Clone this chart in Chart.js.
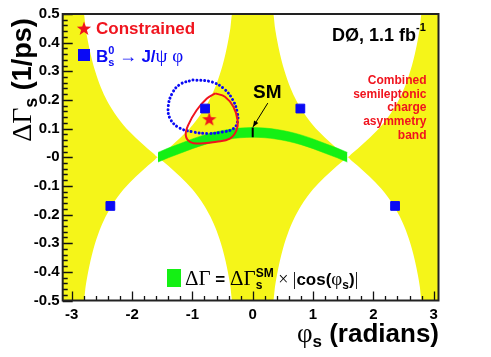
<!DOCTYPE html>
<html>
<head>
<meta charset="utf-8">
<script src="https://cdn.jsdelivr.net/npm/chart.js@4.4.1/dist/chart.umd.min.js"></script>
<style>
  html, body { margin: 0; padding: 0; background: #fff; }
</style>
</head>
<body>
<canvas id="c" width="491" height="357"></canvas>
<script>
// Axis ticks
const xTicks = [-3, -2, -1, 0, 1, 2, 3];
const yTicks = [-0.5, -0.4, -0.3, -0.2, -0.1, 0, 0.1, 0.2, 0.3, 0.4, 0.5];

// Combined semileptonic charge asymmetry band (upper / lower edge)
const bandPhi = [-3.15, -2.80, -2.77, -2.74, -2.69, -2.64, -2.54, -2.44, -2.34, -2.24, -2.14, -2.04, -1.94, -1.84, -1.74, -1.64, -1.57,
    -1.50, -1.40, -1.30, -1.20, -1.10, -1.00, -0.90, -0.80, -0.70, -0.60, -0.50, -0.45, -0.40, -0.37, -0.34, 0,
    0.34, 0.37, 0.40, 0.45, 0.50, 0.60, 0.70, 0.80, 0.90, 1.00, 1.10, 1.20, 1.30, 1.40, 1.50, 1.57,
    1.64, 1.74, 1.84, 1.94, 2.04, 2.14, 2.24, 2.34, 2.44, 2.54, 2.64, 2.69, 2.74, 2.77, 2.80, 3.08];
const bandTop = [0.5, 0.5, 0.451, 0.414, 0.362, 0.320, 0.256, 0.208, 0.170, 0.139, 0.112, 0.089, 0.068, 0.049, 0.030, 0.012, 0,
    0.012, 0.030, 0.049, 0.068, 0.089, 0.112, 0.139, 0.170, 0.208, 0.256, 0.320, 0.362, 0.414, 0.451, 0.5, 0.5,
    0.5, 0.451, 0.414, 0.362, 0.320, 0.256, 0.208, 0.170, 0.139, 0.112, 0.089, 0.068, 0.049, 0.030, 0.012, 0,
    0.012, 0.030, 0.049, 0.068, 0.089, 0.112, 0.139, 0.170, 0.208, 0.256, 0.320, 0.362, 0.414, 0.451, 0.5, 0.5];
const bandBottom = [-0.5, -0.5, -0.451, -0.414, -0.362, -0.320, -0.256, -0.208, -0.170, -0.139, -0.112, -0.089, -0.068, -0.049, -0.030, -0.012, 0,
    -0.012, -0.030, -0.049, -0.068, -0.089, -0.112, -0.139, -0.170, -0.208, -0.256, -0.320, -0.362, -0.414, -0.451, -0.5, -0.5,
    -0.5, -0.451, -0.414, -0.362, -0.320, -0.256, -0.208, -0.170, -0.139, -0.112, -0.089, -0.068, -0.049, -0.030, -0.012, 0,
    -0.012, -0.030, -0.049, -0.068, -0.089, -0.112, -0.139, -0.170, -0.208, -0.256, -0.320, -0.362, -0.414, -0.451, -0.5, -0.5];

// SM band, dGamma_SM x |cos(phi_s)|
const smPhi = [-1.57, -1.4, -1.2, -1.0, -0.8, -0.6, -0.4, -0.2, 0, 0.2, 0.4, 0.6, 0.8, 1.0, 1.2, 1.4, 1.57];
const smTop = [0.017, 0.032, 0.048, 0.064, 0.078, 0.089, 0.097, 0.102, 0.104, 0.102, 0.097, 0.089, 0.078, 0.064, 0.048, 0.032, 0.017];
const smBottom = [-0.017, -0.002, 0.014, 0.030, 0.044, 0.055, 0.063, 0.068, 0.070, 0.068, 0.063, 0.055, 0.044, 0.030, 0.014, -0.002, -0.017];
const smMarkPhi = [0, 0];
const smMarkDG = [0.104, 0.070];

// Bs -> J/psi phi solutions and contour
const fitPhi = [-0.79, 0.79, -2.36, 2.36];
const fitDG = [0.17, 0.17, -0.17, -0.17];
const jpsiPhi = [-0.99, -0.68, -0.47, -0.33, -0.26, -0.25, -0.32, -0.50, -0.75, -0.98, -1.22, -1.37, -1.40, -1.33, -1.20, -0.99];
const jpsiDG = [0.270, 0.263, 0.238, 0.200, 0.160, 0.125, 0.100, 0.088, 0.083, 0.088, 0.103, 0.135, 0.178, 0.225, 0.255, 0.270];

// Constrained fit
const conPhi = [-0.62, -0.46, -0.32, -0.25, -0.27, -0.38, -0.60, -0.87, -1.04, -1.11, -1.07, -0.93, -0.76, -0.62];
const conDG = [0.223, 0.211, 0.176, 0.129, 0.094, 0.065, 0.054, 0.048, 0.054, 0.077, 0.112, 0.164, 0.205, 0.223];
const bestPhi = [-0.72];
const bestDG = [0.133];

const YELLOW = 'rgb(245,245,25)';
const GREEN = 'rgb(20,240,20)';
const BLUE = 'rgb(10,10,245)';
const RED = 'rgb(240,20,30)';
const SANS = '"Liberation Sans", Arial, Helvetica, sans-serif';
const SERIF = '"Liberation Serif", "Times New Roman", serif';

const pts = (xs, ys) => xs.map((x, i) => ({ x: x, y: ys[i] }));

function starPath(ctx, cx, cy, R, r) {
    ctx.beginPath();
    for (let i = 0; i < 10; i++) {
        const a = -Math.PI / 2 + i * Math.PI / 5;
        const rad = i % 2 === 0 ? R : r;
        ctx.lineTo(cx + rad * Math.cos(a), cy + rad * Math.sin(a));
    }
    ctx.closePath();
}

// star marker image for the best fit point
const starImg = document.createElement('canvas');
starImg.width = 16; starImg.height = 16;
(function () {
    const g = starImg.getContext('2d');
    g.fillStyle = RED;
    starPath(g, 8, 8.5, 7.5, 3);
    g.fill();
})();

// text with sub/superscripts, drawn run by run
function runWidth(ctx, r) {
    ctx.font = r.f;
    if (r.t !== undefined) return ctx.measureText(r.t).width;
    return Math.max(ctx.measureText(r.sup || '').width, ctx.measureText(r.sub || '').width);
}
function drawRich(ctx, x, y, runs, align) {
    const ws = runs.map(r => runWidth(ctx, r));
    const total = ws.reduce((a, b) => a + b, 0);
    let cx = align === 'right' ? x - total : (align === 'center' ? x - total / 2 : x);
    ctx.textAlign = 'left';
    ctx.textBaseline = 'alphabetic';
    runs.forEach((r, i) => {
        ctx.font = r.f;
        ctx.fillStyle = r.c || '#000';
        if (r.t !== undefined) ctx.fillText(r.t, cx, y);
        if (r.sup) ctx.fillText(r.sup, cx, y + r.up);
        if (r.sub) ctx.fillText(r.sub, cx, y + r.dn);
        cx += ws[i];
    });
}

const decor = {
    id: 'decor',
    afterDraw(chart) {
        const ctx = chart.ctx;
        const a = chart.chartArea;
        const xs = chart.scales.x, ys = chart.scales.y;
        ctx.save();

        // ticks pointing into the frame
        ctx.strokeStyle = '#111';
        ctx.lineWidth = 1.3;
        ctx.beginPath();
        for (let i = -25; i <= 25; i++) {
            const py = Math.round(ys.getPixelForValue(i * 0.02)) + 0.5;
            const len = i % 5 === 0 ? 10 : 5;
            ctx.moveTo(a.left, py); ctx.lineTo(a.left + len, py);
        }
        for (let i = -15; i <= 15; i++) {
            const px = Math.round(xs.getPixelForValue(i * 0.2)) + 0.5;
            const len = i % 5 === 0 ? 9 : 4.5;
            ctx.moveTo(px, a.bottom); ctx.lineTo(px, a.bottom - len);
        }
        ctx.stroke();

        // frame
        ctx.lineWidth = 2;
        ctx.strokeStyle = '#222';
        ctx.strokeRect(a.left, a.top, a.right - a.left, a.bottom - a.top);

        // SM arrow
        const x0 = xs.getPixelForValue(0.25), y0 = ys.getPixelForValue(0.189);
        const x1 = xs.getPixelForValue(0.005), y1 = ys.getPixelForValue(0.106);
        ctx.lineWidth = 1;
        ctx.strokeStyle = '#000';
        ctx.beginPath(); ctx.moveTo(x0, y0); ctx.lineTo(x1, y1); ctx.stroke();
        const ang = Math.atan2(y1 - y0, x1 - x0);
        ctx.fillStyle = '#000';
        ctx.beginPath();
        ctx.moveTo(x1, y1);
        ctx.lineTo(x1 - 6 * Math.cos(ang) + 2.5 * Math.sin(ang), y1 - 6 * Math.sin(ang) - 2.5 * Math.cos(ang));
        ctx.lineTo(x1 - 6 * Math.cos(ang) - 2.5 * Math.sin(ang), y1 - 6 * Math.sin(ang) + 2.5 * Math.cos(ang));
        ctx.closePath(); ctx.fill();

        // legend, top left
        ctx.fillStyle = RED;
        starPath(ctx, 84, 29, 7.5, 3);
        ctx.fill();
        drawRich(ctx, 96, 34, [{ t: 'Constrained', f: 'bold 17px ' + SANS, c: RED }]);
        ctx.fillStyle = BLUE;
        ctx.fillRect(78, 49, 12, 12);
        drawRich(ctx, 96, 62, [
            { t: 'B', f: 'bold 17px ' + SANS, c: BLUE },
            { sup: '0', sub: 's', f: 'bold 11px ' + SANS, c: BLUE, up: -8, dn: 4 },
            { t: ' \u2192 ', f: '18px ' + SERIF, c: BLUE },
            { t: 'J/', f: 'bold 17px ' + SANS, c: BLUE },
            { t: '\u03c8 \u03c6', f: '19px ' + SERIF, c: BLUE }
        ]);

        // experiment label
        drawRich(ctx, 332, 41, [
            { t: 'D\u00d8, 1.1 fb', f: 'bold 18px ' + SANS },
            { sup: '-1', f: 'bold 11px ' + SANS, up: -10 }
        ]);

        // band label
        const lines = ['Combined', 'semileptonic', 'charge', 'asymmetry', 'band'];
        const base = [84, 97.5, 111, 124.5, 139];
        lines.forEach((s, i) => drawRich(ctx, 426.5, base[i], [{ t: s, f: 'bold 12px ' + SANS, c: RED }], 'right'));

        drawRich(ctx, 253, 98, [{ t: 'SM', f: 'bold 19px ' + SANS }]);

        // legend, bottom
        ctx.fillStyle = GREEN;
        ctx.fillRect(167, 269, 14, 18);
        drawRich(ctx, 185, 285, [
            { t: '\u0394\u0393', f: '21px ' + SERIF },
            { t: ' = ', f: 'bold 17px ' + SANS },
            { t: '\u0394\u0393', f: '21px ' + SERIF },
            { sup: 'SM', sub: 's', f: 'bold 12px ' + SANS, up: -8, dn: 4 },
            { t: ' \u00d7 |', f: '18px ' + SERIF },
            { t: 'cos(', f: 'bold 17px ' + SANS },
            { t: '\u03c6', f: '19px ' + SERIF },
            { sub: 's', f: 'bold 12px ' + SANS, dn: 4 },
            { t: ')', f: 'bold 17px ' + SANS },
            { t: '|', f: '18px ' + SERIF }
        ]);

        // axis titles
        drawRich(ctx, 439, 342, [
            { t: '\u03c6', f: '27px ' + SERIF },
            { sub: 's', f: 'bold 17px ' + SANS, dn: 5 },
            { t: ' (radians)', f: 'bold 26px ' + SANS }
        ], 'right');
        ctx.translate(31, 80);
        ctx.rotate(-Math.PI / 2);
        drawRich(ctx, 0, 0, [
            { t: '\u0394\u0393', f: '28px ' + SERIF },
            { sub: 's', f: 'bold 18px ' + SANS, dn: 6 },
            { t: ' (1/ps)', f: 'bold 27px ' + SANS }
        ], 'center');
        ctx.restore();
    }
};

const tickFont = { family: SANS, weight: 'bold', size: 15 };

new Chart(document.getElementById('c'), {
    type: 'line',
    data: {
        datasets: [
            { data: pts(bandPhi, bandTop), fill: '+1', backgroundColor: YELLOW, borderWidth: 0, pointRadius: 0, cubicInterpolationMode: 'monotone', order: 20 },
            { data: pts(bandPhi, bandBottom), fill: false, borderWidth: 0, pointRadius: 0, cubicInterpolationMode: 'monotone', order: 21 },
            { data: pts(smPhi, smTop), fill: '+1', backgroundColor: GREEN, borderColor: GREEN, borderWidth: 0.5, pointRadius: 0, cubicInterpolationMode: 'monotone', order: 10 },
            { data: pts(smPhi, smBottom), fill: false, borderColor: GREEN, borderWidth: 0.5, pointRadius: 0, cubicInterpolationMode: 'monotone', order: 11 },
            { data: pts(jpsiPhi, jpsiDG), borderColor: BLUE, borderWidth: 3, borderDash: [0.01, 3.9], borderCapStyle: 'round', pointRadius: 0, tension: 0.4, fill: false, order: 6 },
            { data: pts(conPhi, conDG), borderColor: RED, borderWidth: 2, pointRadius: 0, tension: 0.4, fill: false, order: 5 },
            { data: pts(fitPhi, fitDG), showLine: false, pointStyle: 'rect', pointRadius: 6.2, backgroundColor: BLUE, borderColor: BLUE, borderWidth: 1, order: 4 },
            { data: pts(smMarkPhi, smMarkDG), borderColor: '#000', borderWidth: 2, pointRadius: 0, fill: false, order: 3 },
            { data: pts(bestPhi, bestDG), showLine: false, pointStyle: starImg, pointRadius: 8, order: 1 }
        ]
    },
    options: {
        responsive: false,
        animation: false,
        layout: { padding: { top: 14, right: 52.5, left: 0, bottom: 0 } },
        plugins: { legend: { display: false }, tooltip: { enabled: false } },
        scales: {
            x: {
                type: 'linear', min: -3.15, max: 3.08,
                grid: { display: false, drawTicks: false },
                border: { display: false },
                afterBuildTicks: s => { s.ticks = xTicks.map(v => ({ value: v })); },
                afterFit: s => { s.height = 56.5; },
                ticks: { font: tickFont, color: '#000', padding: 5, maxRotation: 0, callback: v => String(v) }
            },
            y: {
                type: 'linear', min: -0.5, max: 0.5,
                grid: { display: false, drawTicks: false },
                border: { display: false },
                afterBuildTicks: s => { s.ticks = yTicks.map(v => ({ value: v })); },
                afterFit: s => { s.width = 62.7; },
                ticks: { font: tickFont, color: '#000', padding: 3, callback: v => (Math.abs(v) < 1e-9 ? '-0' : (Math.round(v * 10) / 10).toFixed(1)) }
            }
        }
    },
    plugins: [decor]
});
</script>
</body>
</html>
